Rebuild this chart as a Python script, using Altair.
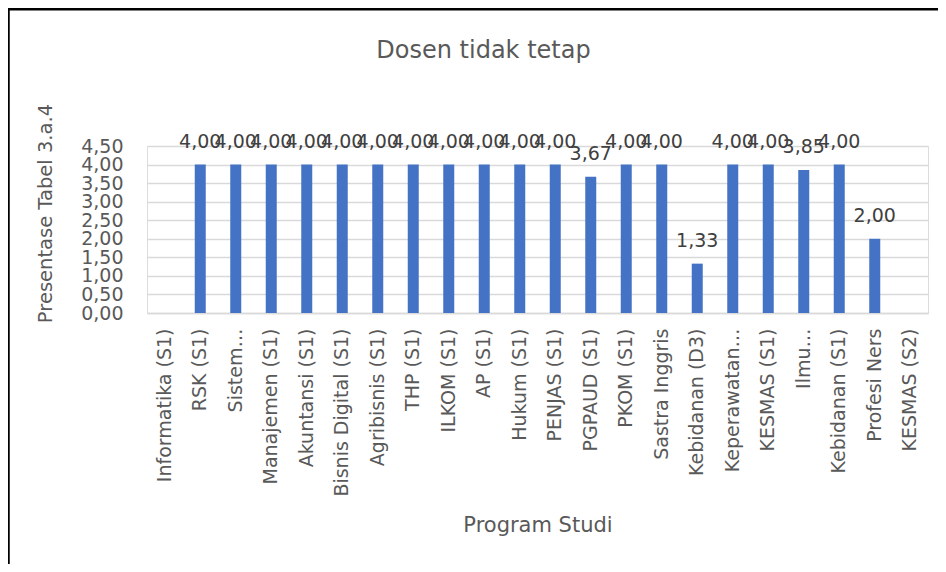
import altair as alt
import pandas as pd

programs = [
    "Informatika (S1)", "RSK (S1)", "Sistem…", "Manajemen (S1)", "Akuntansi  (S1)",
    "Bisnis Digital  (S1)", "Agribisnis  (S1)", "THP (S1)", "ILKOM (S1)", "AP (S1)",
    "Hukum (S1)", "PENJAS (S1)", "PGPAUD (S1)", "PKOM (S1)", "Sastra Inggris",
    "Kebidanan  (D3)", "Keperawatan…", "KESMAS (S1)", "Ilmu…", "Kebidanan (S1)",
    "Profesi Ners", "KESMAS (S2)",
]
values = [
    None, 4.00, 4.00, 4.00, 4.00,
    4.00, 4.00, 4.00, 4.00, 4.00,
    4.00, 4.00, 3.67, 4.00, 4.00,
    1.33, 4.00, 4.00, 3.85, 4.00,
    2.00, None,
]
y_ticks = [0.0, 0.5, 1.0, 1.5, 2.0, 2.5, 3.0, 3.5, 4.0, 4.5]

title_text = "Dosen tidak tetap"
x_title = "Program Studi"
y_title = "Presentase Tabel 3.a.4"

FONT = "DejaVu Sans"
GRAY = "#595959"

df = pd.DataFrame({"program": programs, "value": values})

base = alt.Chart(df)

x_enc = alt.X(
    "program:N",
    sort=programs,
    title=x_title,
    axis=alt.Axis(
        labelAngle=-90,
        labelFont=FONT,
        labelFontSize=19,
        labelColor=GRAY,
        labelPadding=15,
        labelLimit=400,
        labelOverlap=False,
        ticks=False,
        domainColor="#D9D9D9",
        domainWidth=1.3,
        titleFont=FONT,
        titleFontSize=21,
        titleFontWeight="normal",
        titleColor=GRAY,
        titleY=212,
        titleBaseline="middle",
    ),
)

y_enc = alt.Y(
    "value:Q",
    scale=alt.Scale(domain=[0, 4.5], nice=False),
    title=y_title,
    axis=alt.Axis(
        values=y_ticks,
        labelExpr="replace(format(datum.value, '.2f'), '.', ',')",
        labelFont=FONT,
        labelFontSize=19,
        labelColor=GRAY,
        labelPadding=24,
        labelOverlap=False,
        ticks=False,
        domain=False,
        gridColor="#D9D9D9",
        gridWidth=1.3,
        titleFont=FONT,
        titleFontSize=19.5,
        titleFontWeight="normal",
        titleColor=GRAY,
        titleX=-92,
        titleY=67,
        titleAlign="center",
    ),
)

bars = base.mark_bar(size=11, color="#4472C4").encode(x=x_enc, y=y_enc)

labels = (
    base.transform_filter("isValid(datum.value)")
    .transform_calculate(label="replace(format(datum.value, '.2f'), '.', ',')")
    .mark_text(font=FONT, fontSize=19, color="#404040", baseline="alphabetic", dy=-17)
    .encode(x=x_enc, y=y_enc, text="label:N")
)

frame_data = alt.Data(values=[{"k": 1}])
left_line = alt.Chart(frame_data).mark_rule(color="black", strokeWidth=2.5).encode(
    x=alt.value(-138.5), y=alt.value(-138), y2=alt.value(430)
)
top_line = alt.Chart(frame_data).mark_rule(color="black", strokeWidth=2.5).encode(
    x=alt.value(-140), x2=alt.value(800), y=alt.value(-136.7)
)

chart = (
    alt.layer(bars, labels, left_line, top_line)
    .properties(
        width=781,
        height=167,
        title=alt.TitleParams(
            title_text,
            font=FONT,
            fontSize=24,
            fontWeight="normal",
            color=GRAY,
            anchor="middle",
            dx=-54,
            dy=60,
        ),
        autosize=alt.AutoSizeParams(type="none"),
        padding={"left": 139, "top": 138, "right": 10, "bottom": 251},
    )
    .configure_view(stroke=None)
    .configure(background="white")
)

chart.save("out.html", embed_options={"renderer": "svg", "actions": False})
